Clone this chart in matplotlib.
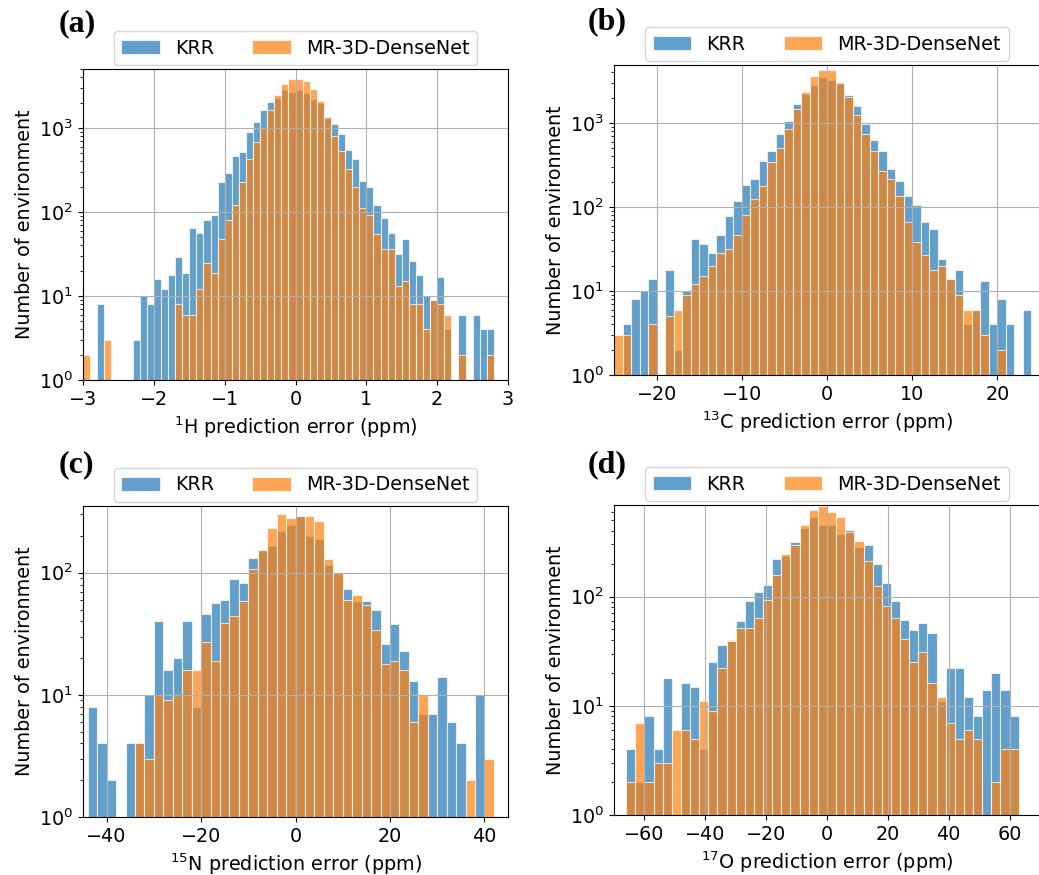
import numpy as np
import matplotlib
matplotlib.use("Agg")
import matplotlib.pyplot as plt

plt.rcParams['font.family'] = ['DejaVu Sans']
plt.rcParams['font.size'] = 13.8

# ---------------- data (counts per bin) ----------------
# (a) 1H : bins -3 .. 3, width 0.1
h_edges = np.round(np.arange(-3.0, 3.0001, 0.1), 2)
h_krr = [0, 0, 8, 0, 0, 0, 0, 3, 10, 8,
         16, 12, 18, 29, 19, 64, 57, 80, 91, 228,
         292, 463, 517, 904, 1170, 1625, 2046, 2300, 2870, 2670,
         2870, 2620, 2222, 1972, 1306, 1107, 847, 541, 427, 233,
         197, 121, 86, 56, 32, 48, 26, 18, 10, 9,
         17, 4, 0, 6, 0, 6, 4, 4, 0, 0]
h_mr = [2, 0, 0, 3, 0, 0, 0, 0, 0, 0,
        0, 0, 0, 8, 6, 6, 12, 25, 19, 48,
        81, 120, 226, 425, 687, 1000, 1625, 2450, 3390, 3850,
        3850, 3650, 2925, 2123, 1340, 802, 526, 321, 201, 112,
        91, 55, 36, 36, 13, 15, 8, 8, 4, 9,
        8, 6, 0, 2, 0, 0, 0, 2, 0, 0]

# (b) 13C : bins -25 .. 25, width 1
c_edges = np.arange(-25, 26, 1)
c_krr = [0, 4, 8, 10, 14, 0, 18, 2, 10, 42,
         36, 28, 47, 79, 117, 184, 213, 350, 460, 739,
         1047, 1698, 2235, 2807, 3530, 3220, 3050, 2175, 1593, 973,
         628, 469, 281, 202, 135, 105, 66, 54, 24, 14,
         18, 4, 6, 13, 4, 8, 4, 0, 6, 0]
c_mr = [3, 3, 0, 0, 4, 0, 5, 6, 9, 12,
        15, 20, 28, 32, 46, 80, 125, 179, 343, 509,
        840, 1455, 2340, 3630, 4236, 4236, 3000, 2040, 1258, 739,
        460, 266, 215, 135, 67, 38, 27, 18, 20, 14,
        9, 6, 6, 3, 0, 2, 0, 0, 0, 0]

# (c) 15N : bins -44 .. 42, width 2
n_edges = np.arange(-44, 43, 2)
n_krr = [8, 4, 2, 0, 4, 4, 10, 40, 16, 20,
         40, 8, 46, 57, 60, 89, 82, 133, 155, 165,
         220, 246, 290, 199, 189, 116, 99, 73, 59, 59,
         50, 26, 38, 23, 13, 7, 7, 14, 6, 4,
         0, 10, 0]
n_mr = [0, 0, 0, 0, 0, 4, 3, 10, 9, 10,
        16, 16, 27, 19, 39, 44, 59, 107, 155, 231,
        301, 281, 290, 290, 264, 130, 99, 60, 66, 54,
        34, 18, 19, 16, 6, 10, 0, 0, 0, 0,
        2, 0, 3]

# (d) 17O : bins -66 .. 63, width 3
o_edges = np.arange(-66, 64, 3)
o_krr = [4, 2, 8, 4, 18, 0, 16, 15, 4, 25,
         36, 40, 60, 92, 110, 128, 223, 237, 318, 425,
         532, 452, 452, 374, 404, 286, 299, 198, 134, 91,
         61, 49, 57, 46, 11, 22, 22, 12, 8, 14,
         20, 14, 8]
o_mr = [2, 7, 2, 3, 3, 6, 6, 5, 11, 9,
        22, 39, 51, 51, 63, 93, 159, 246, 299, 456,
        625, 670, 599, 532, 393, 321, 210, 125, 82, 64,
        41, 25, 31, 16, 12, 7, 5, 6, 5, 0,
        2, 4, 4]

series_names = ["KRR", "MR-3D-DenseNet"]
panel_tags = ["(a)", "(b)", "(c)", "(d)"]
xlabels = [r"$^{1}$H prediction error (ppm)", r"$^{13}$C prediction error (ppm)",
           r"$^{15}$N prediction error (ppm)", r"$^{17}$O prediction error (ppm)"]

# ---------------- figure ----------------
W, H = 1039, 875
fig = plt.figure(figsize=(W / 100, H / 100), dpi=100)


def add_ax(l, r, t, b):
    return fig.add_axes([l / W, 1 - b / H, (r - l) / W, (b - t) / H])


def draw(ax, edges, krr, mr, xlim, ylim, xticks, xlabel):
    centers = (np.asarray(edges[:-1]) + np.asarray(edges[1:])) / 2
    ax.hist(centers, bins=edges, weights=krr, color='C0', alpha=0.7,
            edgecolor='white', linewidth=0.8, label=series_names[0], log=True)
    ax.hist(centers, bins=edges, weights=mr, color='C1', alpha=0.7,
            edgecolor='white', linewidth=0.8, label=series_names[1], log=True)
    ax.set_yscale('log')
    ax.set_xlim(*xlim)
    ax.set_ylim(*ylim)
    ax.set_xticks(xticks)
    ax.grid(True)
    ax.set_xlabel(xlabel)
    ax.set_ylabel("Number of environment")
    ax.legend(loc='lower center', bbox_to_anchor=(0.5, 1.0), ncol=2,
              borderaxespad=0.2, columnspacing=2.0)


ax_a = add_ax(83, 508, 69, 380)
draw(ax_a, h_edges, h_krr, h_mr, (-3, 3), (1, 5045), [-3, -2, -1, 0, 1, 2, 3], xlabels[0])

ax_b = add_ax(614, 1040, 65, 375)
draw(ax_b, c_edges, c_krr, c_mr, (-25, 25), (1, 4900), [-20, -10, 0, 10, 20], xlabels[1])

ax_c = add_ax(83, 508, 506, 817)
draw(ax_c, n_edges, n_krr, n_mr, (-45, 45), (1, 352), [-40, -20, 0, 20, 40], xlabels[2])

ax_d = add_ax(614, 1040, 505, 815)
draw(ax_d, o_edges, o_krr, o_mr, (-70, 70), (1, 689), [-60, -40, -20, 0, 20, 40, 60], xlabels[3])

tag_pos = [(77, 24), (607, 22), (76, 465), (607, 465)]
for tag, (px, py) in zip(panel_tags, tag_pos):
    fig.text(px / W, 1 - py / H, tag, fontfamily='Liberation Serif',
             fontweight='bold', fontsize=23, ha='center', va='center')

fig.savefig("out.png", dpi=100)
